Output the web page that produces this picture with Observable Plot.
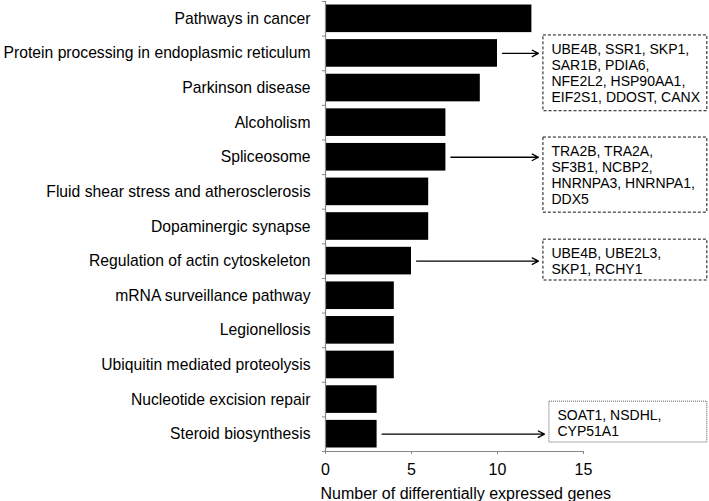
<!DOCTYPE html>
<html>
<head>
<meta charset="utf-8">
<script src="https://cdn.jsdelivr.net/npm/d3@7"></script>
<script src="https://cdn.jsdelivr.net/npm/@observablehq/plot@0.6"></script>
<style>
  html, body { margin: 0; padding: 0; background: white; }
  #chart { width: 709px; height: 501px; }
</style>
</head>
<body>
<div id="chart"></div>
<script>
// ---- data ----
const pathways = [
  "Pathways in cancer",
  "Protein processing in endoplasmic reticulum",
  "Parkinson disease",
  "Alcoholism",
  "Spliceosome",
  "Fluid shear stress and atherosclerosis",
  "Dopaminergic synapse",
  "Regulation of actin cytoskeleton",
  "mRNA surveillance pathway",
  "Legionellosis",
  "Ubiquitin mediated proteolysis",
  "Nucleotide excision repair",
  "Steroid biosynthesis"
];
const geneCounts = [12, 10, 9, 7, 7, 6, 6, 5, 4, 4, 4, 3, 3];
const xTicks = [0, 5, 10, 15];
const xLabel = "Number of differentially expressed genes";

const annoPathways = [
  "Protein processing in endoplasmic reticulum",
  "Spliceosome",
  "Regulation of actin cytoskeleton",
  "Steroid biosynthesis"
];
const annoGenes = [
  ["UBE4B, SSR1, SKP1,", "SAR1B, PDIA6,", "NFE2L2, HSP90AA1,", "EIF2S1, DDOST, CANX"],
  ["TRA2B, TRA2A,", "SF3B1, NCBP2,", "HNRNPA3, HNRNPA1,", "DDX5"],
  ["UBE4B, UBE2L3,", "SKP1, RCHY1"],
  ["SOAT1, NSDHL,", "CYP51A1"]
];

// ---- layout of annotation boxes (in data units) ----
const boxLayout = [
  {x1: 12.67, x2: 22.2, y1: 0.98, y2: 3.17, dotted: false},
  {x1: 12.67, x2: 22.2, y1: 3.93, y2: 6.10, dotted: false},
  {x1: 12.67, x2: 22.2, y1: 6.88, y2: 8.06, dotted: false},
  {x1: 13.02, x2: 22.2, y1: 11.56, y2: 12.74, dotted: true}
];

const bars = pathways.map((name, i) => ({name, value: geneCounts[i], idx: i}));
const annos = annoPathways.map((p, k) => {
  const i = pathways.indexOf(p);
  return {idx: i, value: geneCounts[i], text: annoGenes[k].join("\n"), ...boxLayout[k]};
});
const dashedBoxes = annos.filter(d => !d.dotted);
const dottedBoxes = annos.filter(d => d.dotted);

const font = "'Liberation Sans', Arial, Helvetica, sans-serif";

const chart = Plot.plot({
  width: 709,
  height: 501,
  marginLeft: 325,
  marginRight: 126,
  marginTop: 1,
  marginBottom: 50,
  style: {fontFamily: font, fontSize: "16px", background: "white", color: "black"},
  x: {domain: [0, 15]},
  y: {domain: [pathways.length, 0]},
  marks: [
    Plot.rectX(bars, {x1: 0, x2: "value", y1: d => d.idx, y2: d => d.idx + 1, insetTop: 3.5, insetBottom: 3.5, fill: "black"}),
    Plot.ruleX([0], {stroke: "#888", strokeWidth: 1.2}),
    Plot.ruleY([pathways.length], {stroke: "#888", strokeWidth: 1.2}),
    Plot.axisY({ticks: d3.range(0, pathways.length + 1), tickFormat: () => "", tickSize: 3, stroke: "#888", label: null}),
    Plot.axisX({ticks: xTicks, tickSize: 3, tickPadding: 9, stroke: "#888", fill: "black", fontSize: 16, label: null}),
    Plot.text(bars, {x: 0, y: d => d.idx + 0.5, text: "name", textAnchor: "end", dx: -15, fontSize: 15.7, fill: "black"}),
    Plot.text([xLabel], {frameAnchor: "bottom-left", text: d => d, textAnchor: "start", lineAnchor: "top", dx: -5, dy: 36, fontSize: 16, fill: "black"}),
    Plot.arrow(annos, {x1: "value", y1: d => d.idx + 0.5, x2: "x1", y2: d => d.idx + 0.5, insetStart: 5, insetEnd: 5, headLength: 8, headAngle: 55, stroke: "black", strokeWidth: 1.3}),
    Plot.rect(dashedBoxes, {x1: "x1", x2: "x2", y1: "y1", y2: "y2", fill: "white", stroke: "#111", strokeDasharray: "3,2", strokeWidth: 1}),
    Plot.rect(dottedBoxes, {x1: "x1", x2: "x2", y1: "y1", y2: "y2", fill: "white", stroke: "#555", strokeDasharray: "1,1", strokeWidth: 1}),
    Plot.text(annos, {x: "x1", y: "y1", text: "text", textAnchor: "start", lineAnchor: "top", lineHeight: 1.15, dx: 8, dy: 7, fontSize: 14, fill: "black"})
  ]
});
document.getElementById("chart").appendChild(chart);
</script>
</body>
</html>
